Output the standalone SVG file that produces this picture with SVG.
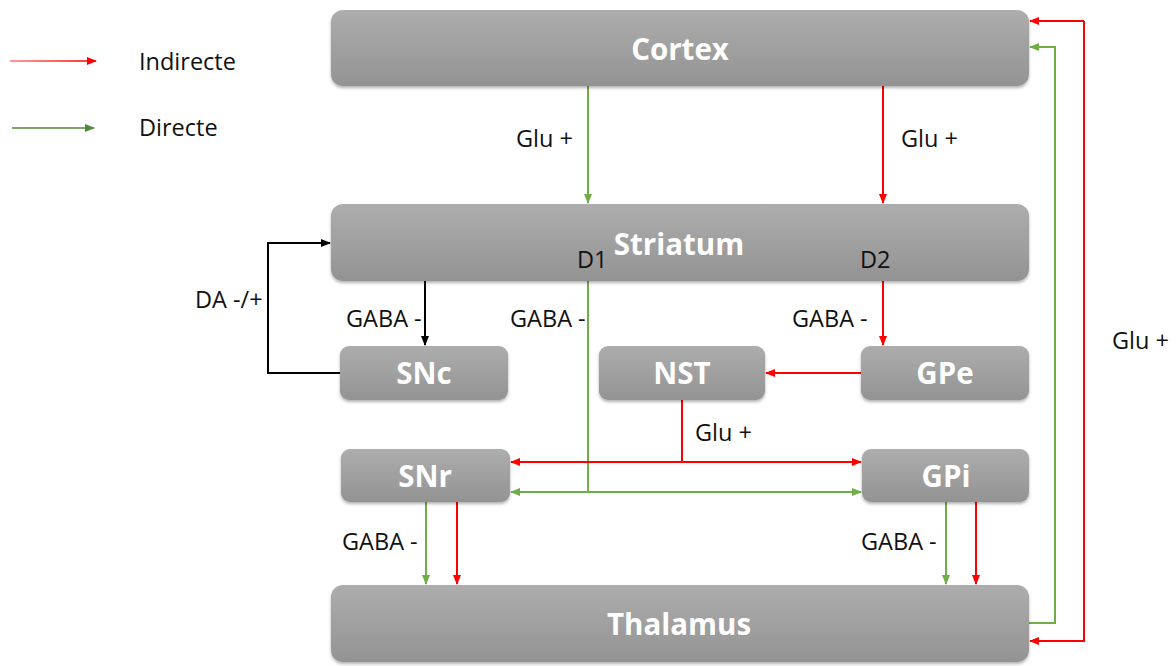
<svg xmlns="http://www.w3.org/2000/svg" width="1176" height="666" viewBox="0 0 1176 666">
<style>
.node rect{fill:url(#g);filter:url(#sh)}
.nt{font-family:"Open Sans","Liberation Sans",sans-serif;font-weight:bold;font-size:29.5px;fill:#fff;text-anchor:middle}
.lb{font-family:"Open Sans","Liberation Sans",sans-serif;font-size:23.5px;fill:#111}
.r{stroke:#ff0000;stroke-width:2;fill:none}
.gr{stroke:#70ad47;stroke-width:2;fill:none}
.k{stroke:#000;stroke-width:2;fill:none}
</style>
<defs>
<linearGradient id="g" x1="0" y1="0" x2="0" y2="1"><stop offset="0" stop-color="#adadad"/><stop offset="1" stop-color="#939393"/></linearGradient>
<filter id="sh" x="-5%" y="-20%" width="110%" height="150%"><feDropShadow dx="0" dy="2" stdDeviation="1.5" flood-color="#000" flood-opacity="0.3"/></filter>
<marker id="ar" markerWidth="10" markerHeight="10" refX="9" refY="5" orient="auto" markerUnits="userSpaceOnUse"><path d="M0,1 L10,5 L0,9 Z" fill="#ff0000"/></marker>
<marker id="ag" markerWidth="10" markerHeight="10" refX="9" refY="5" orient="auto" markerUnits="userSpaceOnUse"><path d="M0,1 L10,5 L0,9 Z" fill="#70ad47"/></marker>
<marker id="ak" markerWidth="10" markerHeight="10" refX="9" refY="5" orient="auto" markerUnits="userSpaceOnUse"><path d="M0,1 L10,5 L0,9 Z" fill="#000"/></marker>
<marker id="agl" markerWidth="10" markerHeight="10" refX="9" refY="5" orient="auto" markerUnits="userSpaceOnUse"><path d="M0,1 L10,5 L0,9 Z" fill="#4f8a3a"/></marker>
<linearGradient id="lr" gradientUnits="userSpaceOnUse" x1="10" y1="61" x2="96" y2="61"><stop offset="0" stop-color="#ff9a9a"/><stop offset="1" stop-color="#ff3030"/></linearGradient>
</defs>
<g id="legend">
<line x1="10" y1="61" x2="96" y2="61" stroke="url(#lr)" stroke-width="2" marker-end="url(#ar)"/>
<text class="lb" x="139" y="70">Indirecte</text>
<line x1="12" y1="128" x2="94" y2="128" stroke="#4f8a3a" stroke-width="1.5" marker-end="url(#agl)"/>
<text class="lb" x="139" y="136">Directe</text>
</g>
<g id="connectors">
<line class="gr" x1="588" y1="86" x2="588" y2="203" marker-end="url(#ag)"/>
<line class="r" x1="883" y1="86" x2="883" y2="203" marker-end="url(#ar)"/>
<line class="k" x1="425" y1="281" x2="425" y2="345" marker-end="url(#ak)"/>
<polyline class="k" points="340,373 268,373 268,243 330,243" marker-end="url(#ak)"/>
<line class="gr" x1="588" y1="281" x2="588" y2="492"/>
<line class="r" x1="883" y1="281" x2="883" y2="345" marker-end="url(#ar)"/>
<line class="r" x1="861" y1="373" x2="766" y2="373" marker-end="url(#ar)"/>
<line class="r" x1="682" y1="400" x2="682" y2="462"/>
<line class="r" x1="682" y1="462" x2="511" y2="462" marker-end="url(#ar)"/>
<line class="r" x1="682" y1="462" x2="861" y2="462" marker-end="url(#ar)"/>
<line class="gr" x1="588" y1="492" x2="511" y2="492" marker-end="url(#ag)"/>
<line class="gr" x1="588" y1="492" x2="861" y2="492" marker-end="url(#ag)"/>
<line class="gr" x1="426" y1="502" x2="426" y2="584" marker-end="url(#ag)"/>
<line class="r" x1="457" y1="502" x2="457" y2="584" marker-end="url(#ar)"/>
<line class="gr" x1="946" y1="502" x2="946" y2="584" marker-end="url(#ag)"/>
<line class="r" x1="976" y1="502" x2="976" y2="584" marker-end="url(#ar)"/>
<polyline class="gr" points="1029,623 1055,623 1055,47 1030,47" marker-end="url(#ag)"/>
<polyline class="r" points="1084,21 1084,641 1030,641" marker-end="url(#ar)"/>
<polyline class="r" points="1084,21 1030,21" marker-end="url(#ar)"/>
<text class="lb" x="516" y="147">Glu +</text>
<text class="lb" x="901" y="147">Glu +</text>
<text class="lb" x="346" y="327">GABA -</text>
<text class="lb" x="510" y="327">GABA -</text>
<text class="lb" x="792" y="327">GABA -</text>
<text class="lb" x="195" y="308">DA -/+</text>
<text class="lb" x="695" y="441">Glu +</text>
<text class="lb" x="342" y="550">GABA -</text>
<text class="lb" x="861" y="550">GABA -</text>
<text class="lb" x="1112" y="349">Glu +</text>
</g>
<g id="cortex" class="node"><rect x="331" y="10" width="698" height="76" rx="12"/><text class="nt" x="680" y="60">Cortex</text></g>
<g id="striatum" class="node"><rect x="331" y="204" width="698" height="77" rx="12"/><text class="nt" x="679" y="255">Striatum</text>
<text class="lb" x="577" y="268">D1</text><text class="lb" x="860" y="268">D2</text></g>
<g id="snc" class="node"><rect x="340" y="346" width="168" height="54" rx="9"/><text class="nt" x="424" y="384">SNc</text></g>
<g id="nst" class="node"><rect x="599" y="346" width="166" height="54" rx="9"/><text class="nt" x="682" y="384">NST</text></g>
<g id="gpe" class="node"><rect x="861" y="346" width="168" height="54" rx="9"/><text class="nt" x="945" y="384">GPe</text></g>
<g id="snr" class="node"><rect x="341" y="449" width="169" height="53" rx="9"/><text class="nt" x="425" y="487">SNr</text></g>
<g id="gpi" class="node"><rect x="862" y="449" width="167" height="53" rx="9"/><text class="nt" x="946" y="487">GPi</text></g>
<g id="thalamus" class="node"><rect x="331" y="585" width="698" height="77" rx="12"/><text class="nt" x="679" y="635">Thalamus</text></g>
</svg>
